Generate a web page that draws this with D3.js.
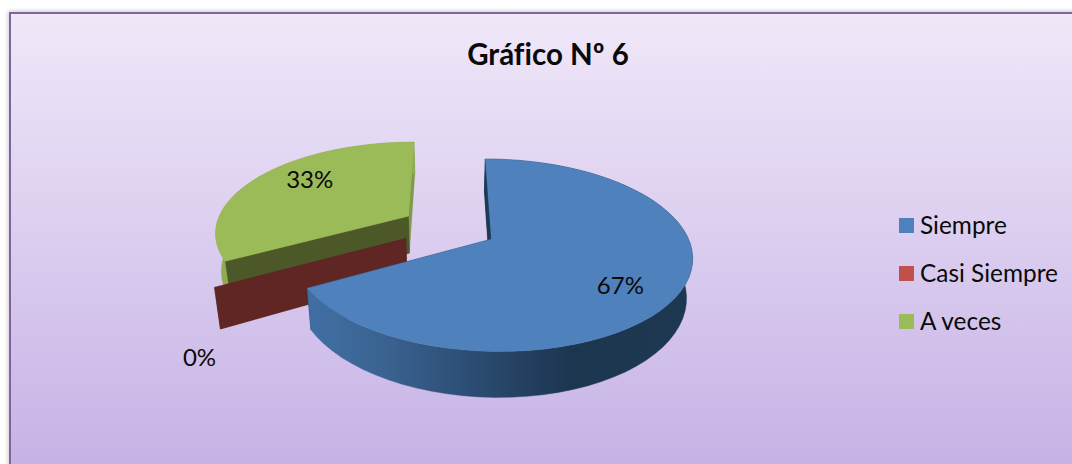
<!DOCTYPE html>
<html><head><meta charset="utf-8">
<script src="https://cdn.jsdelivr.net/npm/d3@7/dist/d3.min.js"></script>
<style>html,body{margin:0;padding:0;background:#fff;overflow:hidden}svg{display:block}text{font-family:Lato,"Open Sans",sans-serif;fill:#0a0a0a;font-variant-ligatures:none}</style>
</head><body><svg id="c" width="1072" height="464"></svg>
<script>
const titleText = "Gráfico Nº 6";
const categories = ["Siempre", "Casi Siempre", "A veces"];
const values = [67, 0, 33];
const topColors = ["#4f81bd", "#c0504d", "#9bbb59"];
const innerColors = ["#1c3a56", "#5f2624", "#4c5828"];
const endWallColors = ["#1c3a56", "#5f2624", "#7f9a48"];

const W = 1072, H = 464;
const svg = d3.select("#c");
const defs = svg.append("defs");

const bg = defs.append("linearGradient").attr("id", "bg").attr("x1", 0).attr("x2", 0).attr("y1", 0).attr("y2", 1);
bg.append("stop").attr("offset", 0).attr("stop-color", "#f0e8f9");
bg.append("stop").attr("offset", 1).attr("stop-color", "#c3afe4");
const shadow = defs.append("filter").attr("id", "sh").attr("x", "-5%").attr("y", "-5%").attr("width", "110%").attr("height", "110%");
shadow.append("feGaussianBlur").attr("stdDeviation", 2);

const wallG = defs.append("linearGradient").attr("id", "wall").attr("gradientUnits", "userSpaceOnUse")
  .attr("x1", 310).attr("x2", 692).attr("y1", 0).attr("y2", 0);
[[0, "#416fa3"], [0.2, "#3a6290"], [0.45, "#2a4a70"], [0.68, "#1d3650"], [1, "#1d3852"]].forEach(([o, c]) =>
  wallG.append("stop").attr("offset", o).attr("stop-color", c));

// frame
svg.append("rect").attr("x", 8).attr("y", 11).attr("width", W + 20).attr("height", H + 20).attr("fill", "#999").attr("opacity", 0.5).attr("filter", "url(#sh)");
svg.append("rect").attr("x", 10).attr("y", 13).attr("width", W + 20).attr("height", H + 20)
  .attr("fill", "url(#bg)").attr("stroke", "#8064a2").attr("stroke-width", 2);

// title
svg.append("text").attr("x", 548).attr("y", 65).attr("text-anchor", "middle")
  .attr("font-size", 29.5).attr("font-weight", 700).text(titleText);

// projection of the tilted, exploded pie
const cx = 449, cy = 227.5, Rx = 193, Ry = 89.7, persp = 0.1635, depth = 37.5, explode = 0.25;
function project(u, v, z) {
  const w = 1 + persp * v, k = 1 - 0.025 * z;
  return [cx + u * Rx / w * k, cy - v * Ry / w + depth * z / w];
}
const pie = d3.pie().sort(null).value(d => d)(values);
const dir = a => [Math.sin(a), Math.cos(a)];
function point(slice, a, r, z) {
  const mid = (slice.startAngle + slice.endAngle) / 2, e = dir(mid), d = dir(a);
  return project(explode * e[0] + r * d[0], explode * e[1] + r * d[1], z);
}
const line = d3.line();
const arcAngles = (s) => d3.range(0, 61).map(i => d3.interpolateNumber(s.startAngle, s.endAngle)(i / 60));
const g = svg.append("g");

function drawSlice(i) {
  const s = pie[i];
  const A = arcAngles(s);
  const apexT = point(s, 0, 0, 0), apexB = point(s, 0, 0, 1);
  const poly = (pts, fill) => g.append("path").attr("d", line(pts) + "Z").attr("fill", fill).attr("stroke", fill).attr("stroke-width", 0.4);
  const startWall = () => poly([apexT, point(s, s.startAngle, 1, 0), point(s, s.startAngle, 1, 1), apexB], innerColors[i]);
  poly([apexT, point(s, s.endAngle, 1, 0), point(s, s.endAngle, 1, 1), apexB], endWallColors[i]);
  startWall();
  if (s.endAngle > s.startAngle) {
    const outer = A.map(a => point(s, a, 1, 0)).concat(A.slice().reverse().map(a => point(s, a, 1, 1)));
    poly(outer, i === 0 ? "url(#wall)" : "#8fac50");
    startWall();
    poly([apexT].concat(A.map(a => point(s, a, 1, 0))), topColors[i]);
  }
}
[2, 1, 0].forEach(drawSlice);

// data labels
const labelOffsets = [[0.7, 0, 13], [1.0, -15, 73], [0.7, 7, -5]];
pie.forEach((s, i) => {
  const mid = (s.startAngle + s.endAngle) / 2;
  const [r, dx, dy] = labelOffsets[i];
  const p = point(s, mid, r, 0);
  svg.append("text").attr("x", p[0] + dx).attr("y", p[1] + dy).attr("text-anchor", "middle")
    .attr("dominant-baseline", "middle").attr("font-size", 24).text(values[i] + "%");
});

// legend
const legendY = d3.scalePoint().domain(categories).range([225.5, 321.5]);
const lg = svg.append("g").selectAll("g").data(categories).join("g");
lg.append("rect").attr("x", 899).attr("y", d => legendY(d) - 7.5).attr("width", 15).attr("height", 15).attr("fill", (d, i) => topColors[i]);
lg.append("text").attr("x", 920).attr("y", d => legendY(d) + 8).attr("font-size", 24.4).text(d => d);
</script></body></html>
